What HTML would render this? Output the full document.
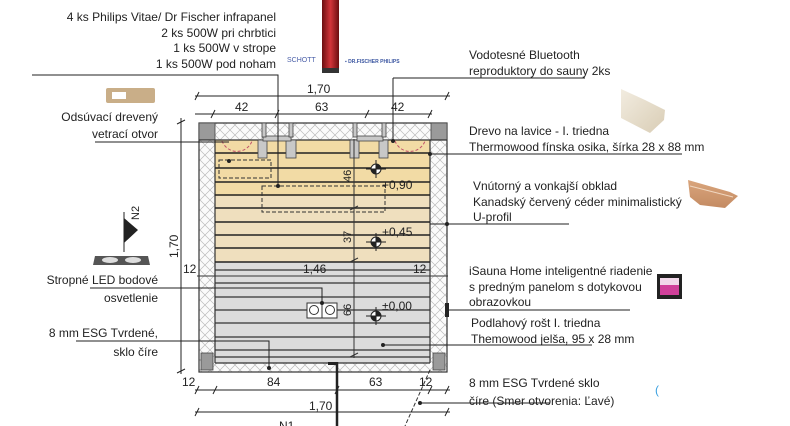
<!DOCTYPE html>
<html><head><meta charset="utf-8"><style>
html,body{margin:0;padding:0;background:#fff;}
svg{display:block;}
text{font-family:"Liberation Sans",sans-serif;font-size:12px;fill:#222;}
</style></head><body>
<svg width="790" height="426" viewBox="0 0 790 426" xmlns="http://www.w3.org/2000/svg">
<defs>
<pattern id="hx" width="10" height="10" patternUnits="userSpaceOnUse">
<rect width="10" height="10" fill="#fbfbfb"/>
<path d="M0 0L10 10M10 0L0 10" stroke="#bbb" stroke-width="0.7"/>
</pattern>
<linearGradient id="red" x1="0" x2="1"><stop offset="0" stop-color="#6b0e10"/><stop offset="0.5" stop-color="#d2353a"/><stop offset="1" stop-color="#6b0e10"/></linearGradient>
<linearGradient id="wood" x1="0" y1="0" x2="1" y2="1"><stop offset="0" stop-color="#f2ece0"/><stop offset="1" stop-color="#d9cdb5"/></linearGradient>
<linearGradient id="ced" x1="0" y1="0" x2="0" y2="1"><stop offset="0" stop-color="#d9a57c"/><stop offset="1" stop-color="#c48b63"/></linearGradient>
</defs>

<!-- top images -->
<rect x="322" y="0" width="17" height="72" fill="url(#red)"/>
<rect x="322" y="68" width="17" height="5" fill="#333"/>
<text x="287" y="62" style="font-size:7px;fill:#4a5fa8">SCHOTT</text>
<text x="345" y="63" style="font-size:5px;fill:#3a55a0;font-weight:bold">▪ DR.FISCHER PHILIPS</text>

<!-- sauna body -->
<rect x="199" y="123" width="248" height="249" fill="url(#hx)" stroke="#333" stroke-width="1.2"/>
<rect x="215" y="140" width="215" height="223" fill="#dcdcdc"/>
<rect x="215" y="140" width="215" height="56" fill="#f2dba5"/>
<rect x="215" y="196" width="215" height="66" fill="#efdfbe"/>
<!-- corner posts -->
<rect x="199" y="123" width="16" height="17" fill="#9a9a9a" stroke="#444" stroke-width="0.8"/>
<rect x="431" y="123" width="16" height="17" fill="#9a9a9a" stroke="#444" stroke-width="0.8"/>
<rect x="201" y="353" width="12" height="17" fill="#9a9a9a" stroke="#444" stroke-width="0.8"/>
<rect x="433" y="353" width="12" height="17" fill="#9a9a9a" stroke="#444" stroke-width="0.8"/>
<line x1="199" y1="140" x2="447" y2="140" stroke="#333" stroke-width="1.2"/>
<line x1="215" y1="140" x2="215" y2="363" stroke="#333" stroke-width="1.2"/>
<line x1="430" y1="140" x2="430" y2="363" stroke="#333" stroke-width="1.2"/>
<!-- bench lines -->
<g stroke="#222" stroke-width="1.5">
<line x1="215" y1="153" x2="430" y2="153"/><line x1="215" y1="168" x2="430" y2="168"/>
<line x1="215" y1="182" x2="430" y2="182"/><line x1="215" y1="195" x2="430" y2="195"/>
<line x1="215" y1="208" x2="430" y2="208"/><line x1="215" y1="222" x2="430" y2="222"/>
<line x1="215" y1="235" x2="430" y2="235"/><line x1="215" y1="248" x2="430" y2="248"/>
<line x1="215" y1="262" x2="430" y2="262"/>
</g>
<g stroke="#333" stroke-width="1.2">
<line x1="215" y1="270" x2="430" y2="270"/><line x1="215" y1="283" x2="430" y2="283"/>
<line x1="215" y1="297" x2="430" y2="297"/><line x1="215" y1="310" x2="430" y2="310"/>
<line x1="215" y1="323" x2="430" y2="323"/><line x1="215" y1="337" x2="430" y2="337"/>
<line x1="215" y1="350" x2="430" y2="350"/><line x1="215" y1="357" x2="430" y2="357"/>
<line x1="215" y1="363" x2="430" y2="363"/>
</g>
<!-- heater posts -->
<g fill="#c8c8c8" stroke="#444" stroke-width="0.8">
<rect x="258" y="140" width="9" height="18"/><rect x="286" y="140" width="10" height="18"/>
<rect x="350" y="140" width="9" height="18"/><rect x="379" y="140" width="9" height="18"/>
<rect x="263" y="136" width="28" height="5"/><rect x="357" y="136" width="26" height="5"/>
<rect x="262" y="123" width="4" height="14"/><rect x="289" y="123" width="4" height="14"/>
<rect x="353" y="123" width="4" height="14"/><rect x="382" y="123" width="4" height="14"/>
</g>
<!-- pink arcs -->
<path d="M222 141 A16 16 0 0 0 252 141" fill="none" stroke="#c0506a" stroke-dasharray="3 2"/>
<path d="M395 141 A16 16 0 0 0 425 141" fill="none" stroke="#c0506a" stroke-dasharray="3 2"/>
<!-- dashed rects -->
<rect x="219" y="160" width="52" height="18" fill="none" stroke="#333" stroke-dasharray="4 2"/>
<rect x="262" y="186" width="123" height="26" fill="none" stroke="#333" stroke-dasharray="4 2"/>
<!-- vertical dim inside -->
<line x1="354" y1="139" x2="354" y2="358" stroke="#333"/>
<g stroke="#333"><line x1="350" y1="210" x2="358" y2="206"/><line x1="350" y1="262" x2="358" y2="258"/><line x1="350" y1="357" x2="358" y2="353"/></g>
<text transform="translate(351,182) rotate(-90)" style="font-size:11px">46</text>
<text transform="translate(351,243) rotate(-90)" style="font-size:11px">37</text>
<text transform="translate(351,316) rotate(-90)" style="font-size:11px">66</text>
<!-- level markers -->
<g>
<circle cx="376" cy="169" r="5" fill="#fff" stroke="#222"/><path d="M376 164A5 5 0 0 1 381 169L376 169ZM376 174A5 5 0 0 1 371 169L376 169Z" fill="#222"/>
<line x1="366" y1="169" x2="386" y2="169" stroke="#222"/><line x1="376" y1="160" x2="376" y2="178" stroke="#222"/>
<circle cx="376" cy="242" r="5" fill="#fff" stroke="#222"/><path d="M376 237A5 5 0 0 1 381 242L376 242ZM376 247A5 5 0 0 1 371 242L376 242Z" fill="#222"/>
<line x1="366" y1="242" x2="386" y2="242" stroke="#222"/><line x1="376" y1="233" x2="376" y2="251" stroke="#222"/>
<circle cx="376" cy="316" r="5" fill="#fff" stroke="#222"/><path d="M376 311A5 5 0 0 1 381 316L376 316ZM376 321A5 5 0 0 1 371 316L376 316Z" fill="#222"/>
<line x1="366" y1="316" x2="386" y2="316" stroke="#222"/><line x1="376" y1="307" x2="376" y2="325" stroke="#222"/>
</g>
<text x="382" y="189">+0,90</text>
<text x="382" y="236">+0,45</text>
<text x="382" y="310">±0,00</text>
<text x="303" y="273">1,46</text>
<text x="183" y="273">12</text>
<text x="413" y="273">12</text>
<line x1="197" y1="276" x2="448" y2="276" stroke="#333"/>
<!-- LED box -->
<rect x="307" y="303" width="30" height="15" fill="#fff" stroke="#333"/>
<line x1="322" y1="303" x2="322" y2="318" stroke="#333"/>
<circle cx="314" cy="310" r="4.5" fill="none" stroke="#333"/><circle cx="330" cy="310" r="4.5" fill="none" stroke="#333"/>

<!-- door -->
<rect x="328" y="362" width="10" height="3" fill="#222"/>
<line x1="337" y1="362" x2="337" y2="426" stroke="#222" stroke-width="2.5"/>
<line x1="430" y1="370" x2="405" y2="426" stroke="#333" stroke-dasharray="4 2"/>
<rect x="445" y="303" width="4" height="14" fill="#222"/>

<!-- dimensions -->
<g stroke="#222" stroke-width="1">
<line x1="195" y1="96" x2="450" y2="96"/>
<line x1="195" y1="114" x2="432" y2="114"/>
<line x1="181" y1="118" x2="181" y2="374"/>
<line x1="195" y1="390" x2="450" y2="390"/>
<line x1="195" y1="412" x2="450" y2="412"/>
<g>
<line x1="195" y1="100" x2="199" y2="92"/><line x1="445" y1="100" x2="449" y2="92"/>
<line x1="211" y1="118" x2="215" y2="110"/><line x1="275" y1="118" x2="279" y2="110"/><line x1="365" y1="118" x2="369" y2="110"/><line x1="428" y1="118" x2="432" y2="110"/>
<line x1="177" y1="124" x2="185" y2="120"/><line x1="177" y1="373" x2="185" y2="369"/>
<line x1="195" y1="394" x2="199" y2="386"/><line x1="213" y1="394" x2="217" y2="386"/><line x1="335" y1="394" x2="339" y2="386"/><line x1="428" y1="394" x2="432" y2="386"/><line x1="445" y1="394" x2="449" y2="386"/>
<line x1="195" y1="416" x2="199" y2="408"/><line x1="445" y1="416" x2="449" y2="408"/>
</g>
</g>
<text x="307" y="93">1,70</text>
<text x="235" y="111">42</text>
<text x="315" y="111">63</text>
<text x="391" y="111">42</text>
<text transform="translate(178,258) rotate(-90)">1,70</text>
<text x="182" y="386">12</text>
<text x="267" y="386">84</text>
<text x="369" y="386">63</text>
<text x="419" y="386">12</text>
<text x="309" y="410">1,70</text>
<text x="279" y="430">N1</text>

<!-- leaders left -->
<g stroke="#222" stroke-width="1" fill="none">
<polyline points="32,75 278,75 278,186"/>
<polyline points="95,142 229,142"/>
<polyline points="90,288 322,288 322,303"/>
<polyline points="76,341 269,341 269,368"/>
<polyline points="393,78 585,78"/>
<line x1="393" y1="78" x2="393" y2="141"/>
<polyline points="430,154 682,154"/>
<polyline points="430,224 569,224"/>
<polyline points="447,310 630,310"/>
<polyline points="383,345 592,345"/>
<polyline points="420,403 550,403"/>
</g>
<g fill="#222">
<circle cx="278" cy="186" r="2"/><circle cx="229" cy="161" r="2"/><circle cx="322" cy="303" r="2"/><circle cx="269" cy="368" r="2"/>
<circle cx="393" cy="141" r="2"/><circle cx="430" cy="154" r="2"/><circle cx="447" cy="224" r="2"/><circle cx="383" cy="345" r="2"/><circle cx="420" cy="403" r="2"/>
</g>

<!-- left texts -->
<g text-anchor="end">
<text x="276" y="21">4 ks Philips Vitae/ Dr Fischer infrapanel</text>
<text x="276" y="37">2 ks 500W pri chrbtici</text>
<text x="276" y="52">1 ks 500W v strope</text>
<text x="276" y="68">1 ks 500W pod noham</text>
<text x="158" y="121">Odsúvací drevený</text>
<text x="158" y="138">vetrací otvor</text>
<text x="158" y="284">Stropné LED bodové</text>
<text x="158" y="302">osvetlenie</text>
<text x="158" y="337">8 mm ESG Tvrdené,</text>
<text x="158" y="356">sklo číre</text>
</g>
<!-- vent icon -->
<rect x="106" y="88" width="49" height="15" rx="2" fill="#c9ae88"/>
<rect x="112" y="92" width="14" height="7" fill="#fff"/>
<!-- N2 -->
<line x1="124" y1="212" x2="124" y2="252" stroke="#222"/>
<path d="M124 218L138 230L124 243Z" fill="#222"/>
<text transform="translate(139,220) rotate(-90)" style="font-size:11px">N2</text>
<!-- LED icon -->
<path d="M95 256L148 256L150 265L93 265Z" fill="#555"/>
<ellipse cx="110" cy="260" rx="8" ry="3" fill="#ddd"/><ellipse cx="133" cy="260" rx="8" ry="3" fill="#ddd"/>

<!-- right texts -->
<text x="469" y="59">Vodotesné Bluetooth</text>
<text x="469" y="75">reproduktory do sauny 2ks</text>
<text x="469" y="135">Drevo na lavice - I. triedna</text>
<text x="469" y="151">Thermowood fínska osika, šírka 28 x 88 mm</text>
<text x="473" y="190">Vnútorný a vonkajší obklad</text>
<text x="473" y="206">Kanadský červený céder minimalistický</text>
<text x="473" y="221">U-profil</text>
<text x="469" y="275">iSauna Home inteligentné riadenie</text>
<text x="469" y="291">s predným panelom s dotykovou</text>
<text x="469" y="306">obrazovkou</text>
<text x="471" y="327">Podlahový rošt I. triedna</text>
<text x="471" y="343">Themowood jelša, 95 x 28 mm</text>
<text x="469" y="387">8 mm ESG Tvrdené sklo</text>
<text x="469" y="405">číre (Smer otvorenia: Ľavé)</text>
<!-- icons right -->
<path d="M621 89L645 100L665 110L664 120L650 133L621 118Z" fill="url(#wood)"/>
<path d="M688 180L730 192L738 196L725 208L700 205L690 197Z" fill="url(#ced)"/>
<line x1="690" y1="186" x2="733" y2="197" stroke="#f0d7c0"/>
<rect x="657" y="274" width="25" height="25" fill="#222"/>
<rect x="660" y="278" width="19" height="7" fill="#f2d8ea"/>
<rect x="660" y="285" width="19" height="10" fill="#d0409a"/>
<text x="655" y="394" style="fill:#3aa0e0;font-size:12px">(</text>
</svg>
</body></html>
